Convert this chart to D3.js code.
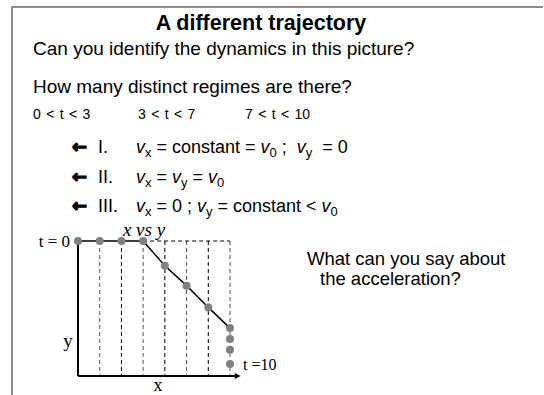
<!DOCTYPE html>
<html>
<head>
<meta charset="utf-8">
<script src="https://cdn.jsdelivr.net/npm/d3@7"></script>
<style>
  html, body { margin: 0; padding: 0; background: #fff; }
  svg { display: block; }
  text { white-space: pre; }
  .sans { font-family: "Liberation Sans", Arial, sans-serif; fill: #000; }
  .serif { font-family: "Liberation Serif", "Times New Roman", serif; fill: #000; }
  .arrow { font-family: "DejaVu Sans", sans-serif; font-weight: bold; fill: #000; stroke: #000; stroke-width: 1.2; }
</style>
</head>
<body>
<svg id="chart" width="544" height="395"></svg>
<script>
// Trajectory samples, one per time step t = 0..10
const times = [0, 1, 2, 3, 4, 5, 6, 7, 8, 9, 10];
const xPos  = [0, 1, 2, 3, 4, 5, 6, 7, 7, 7, 7];
const yDrop = [0, 0, 0, 0, 1.14, 2.05, 3.05, 4.0, 4.5, 5.0, 5.65];
// Solid trajectory line covers regimes I and II (t = 0..7)
const lineEnd = 7;
const gridX = [1, 2, 3, 4, 5, 6, 7];
const regimeLabels = ["0 < t < 3", "3 < t < 7", "7 < t < 10"];

const svg = d3.select("#chart");

// slide frame
svg.append("path")
  .attr("d", "M12,395 L12,7 L543,7")
  .attr("fill", "none").attr("stroke", "#8a8a8a").attr("stroke-width", 2);

// headings
svg.append("text").attr("class", "sans").attr("x", 261).attr("y", 30)
  .attr("text-anchor", "middle").attr("font-size", 21.5).attr("font-weight", "bold")
  .text("A different trajectory");
svg.append("text").attr("class", "sans").attr("x", 33).attr("y", 55)
  .attr("font-size", 19).text("Can you identify the dynamics in this picture?");
svg.append("text").attr("class", "sans").attr("x", 33).attr("y", 93)
  .attr("font-size", 19).text("How many distinct regimes are there?");

const regimeX = [33, 138, 245];
svg.selectAll("text.regime").data(regimeLabels).join("text")
  .attr("class", "sans regime").attr("x", (d, i) => regimeX[i]).attr("y", 119)
  .attr("font-size", 14).attr("word-spacing", 1.5).text(d => d);

// regime descriptions
function eqLine(yBase, numeral, parts) {
  const g = svg.append("g");
  g.append("text").attr("class", "arrow").attr("x", 72).attr("y", yBase)
    .attr("font-size", 18).text("\u2190");
  g.append("text").attr("class", "sans").attr("x", 98).attr("y", yBase)
    .attr("font-size", 18).text(numeral);
  const t = g.append("text").attr("class", "sans").attr("x", 136).attr("y", yBase)
    .attr("font-size", 18);
  parts.forEach(p => {
    const s = t.append("tspan").text(p.t);
    if (p.i) s.attr("font-style", "italic");
    if (p.sub) s.attr("font-size", 13).attr("dy", 4);
    if (p.up) s.attr("dy", -4);
  });
}
eqLine(153, "I.", [
  {t: "v", i: true}, {t: "x", sub: true}, {t: " = constant = ", up: true},
  {t: "v", i: true}, {t: "0", sub: true}, {t: " ;  ", up: true},
  {t: "v", i: true}, {t: "y", sub: true}, {t: "  = 0", up: true}
]);
eqLine(183, "II.", [
  {t: "v", i: true}, {t: "x", sub: true}, {t: " = ", up: true},
  {t: "v", i: true}, {t: "y", sub: true}, {t: " = ", up: true},
  {t: "v", i: true}, {t: "0", sub: true}
]);
eqLine(212, "III.", [
  {t: "v", i: true}, {t: "x", sub: true}, {t: " = 0 ; ", up: true},
  {t: "v", i: true}, {t: "y", sub: true}, {t: " = constant < ", up: true},
  {t: "v", i: true}, {t: "0", sub: true}
]);

svg.append("text").attr("class", "sans").attr("x", 307).attr("y", 265)
  .attr("font-size", 18.5).text("What can you say about");
svg.append("text").attr("class", "sans").attr("x", 320).attr("y", 285)
  .attr("font-size", 18.5).text("the acceleration?");

// trajectory plot
const x = d3.scaleLinear().domain([0, 7]).range([78, 230]);
const y = d3.scaleLinear().domain([0, 6.2]).range([241, 376]);
const pts = times.map((t, i) => ({t, x: xPos[i], y: yDrop[i]}));

// dashed time-step guides
svg.selectAll("line.guide").data(gridX).join("line")
  .attr("class", "guide")
  .attr("x1", d => x(d)).attr("x2", d => x(d))
  .attr("y1", y(0)).attr("y2", y.range()[1])
  .attr("stroke", (d, i) => i % 2 ? "#000" : "#555")
  .attr("stroke-width", 1).attr("stroke-dasharray", "4,3");
svg.append("line")
  .attr("x1", x(3)).attr("x2", x(7)).attr("y1", y(0)).attr("y2", y(0))
  .attr("stroke", "#000").attr("stroke-dasharray", "4,3");

// axes
svg.append("line").attr("x1", x(0)).attr("x2", x(0))
  .attr("y1", y(0)).attr("y2", y.range()[1])
  .attr("stroke", "#000").attr("stroke-width", 2);
svg.append("line").attr("x1", x(0)).attr("x2", x(7.22))
  .attr("y1", y.range()[1]).attr("y2", y.range()[1])
  .attr("stroke", "#000").attr("stroke-width", 2);
svg.append("path")
  .attr("d", `M${x(7.22)},${y.range()[1] - 3} L${x(7.22) + 6},${y.range()[1]} L${x(7.22)},${y.range()[1] + 3} Z`)
  .attr("fill", "#000");

// trajectory line
const line = d3.line().x(d => x(d.x)).y(d => y(d.y));
svg.append("path").datum(pts.filter(d => d.t <= lineEnd))
  .attr("d", line).attr("fill", "none").attr("stroke", "#000").attr("stroke-width", 1.5);

// positions at each step
svg.selectAll("circle.pt").data(pts).join("circle")
  .attr("class", "pt").attr("cx", d => x(d.x)).attr("cy", d => y(d.y))
  .attr("r", 4).attr("fill", "#808080");

// plot labels
svg.append("text").attr("class", "serif").attr("x", 70).attr("y", y(0) + 6)
  .attr("text-anchor", "end").attr("font-size", 17).text("t = 0");
svg.append("text").attr("class", "serif").attr("x", 144).attr("y", 236)
  .attr("text-anchor", "middle").attr("font-size", 19).attr("font-style", "italic").text("x vs y");
svg.append("text").attr("class", "serif").attr("x", 68).attr("y", 347)
  .attr("text-anchor", "middle").attr("font-size", 19).text("y");
svg.append("text").attr("class", "serif").attr("x", 158).attr("y", 391)
  .attr("text-anchor", "middle").attr("font-size", 18).text("x");
svg.append("text").attr("class", "serif").attr("x", 243).attr("y", y(5.65) + 6)
  .attr("font-size", 16).text("t =10");
</script>
</body>
</html>
